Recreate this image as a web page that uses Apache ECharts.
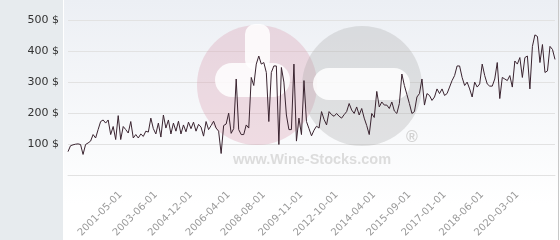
<!DOCTYPE html>
<html><head><meta charset="utf-8">
<script src="https://cdn.jsdelivr.net/npm/echarts@6/dist/echarts.min.js"></script>
<style>html,body{margin:0;padding:0;background:#fff}#c{width:560px;height:240px}</style>
</head><body><div id="c"></div>
<script>
const values = [
76,95,98,100,101,99,67,99,104,110,
131,120,147,173,178,168,178,131,157,115,
192,115,157,147,136,173,120,131,120,133,
125,142,139,184,150,133,168,123,194,152,
178,133,168,142,174,133,162,140,171,150,
171,142,164,155,126,173,147,160,174,152,
142,70,160,165,200,135,150,310,147,131,
131,162,152,315,289,358,384,358,363,331,
173,331,352,352,99,347,300,194,147,147,
358,110,184,131,305,173,150,127,145,158,
152,205,180,162,205,195,190,199,190,184,
195,205,231,210,199,220,194,215,184,160,
131,199,186,270,220,236,226,226,215,236,
207,199,231,326,289,260,231,199,205,252,
263,310,226,263,257,241,252,278,263,278,
257,263,284,305,321,352,352,315,289,300,
278,252,300,284,294,358,321,294,287,287,
310,363,247,315,310,305,321,284,368,358,
379,315,379,384,278,415,452,447,363,421,
331,336,415,405,373
];
const tickLabels = ['2001-05-01','2003-06-01','2004-12-01','2006-04-01','2008-08-01','2009-11-01','2012-10-01','2014-04-01','2015-09-01','2017-01-01','2018-06-01','2020-03-01'];
const tickIndex = [21,35,49,64,78,93,107,122,136,150,165,179];
const categories = values.map((v, i) => { const k = tickIndex.indexOf(i); return k >= 0 ? tickLabels[k] : '#' + i; });

const chart = echarts.init(document.getElementById('c'));
chart.setOption({
  animation: false,
  grid: { left: 68, right: 5, top: 20, bottom: 62 },
  graphic: [
    { type: 'rect', z: -10, shape: { x: 0, y: 0, width: 63, height: 240 }, style: { fill: '#e7ebee' } },
    { type: 'rect', z: -10, shape: { x: 64, y: 0, width: 496, height: 240 },
      style: { fill: new echarts.graphic.LinearGradient(0, 0, 0, 1, [{ offset: 0, color: '#eceff4' }, { offset: 0.85, color: '#ffffff' }]) } },
    { type: 'line', z: -9, shape: { x1: 558.5, y1: 0, x2: 558.5, y2: 240 }, style: { stroke: '#c8c8c8', lineWidth: 1 } },
    { type: 'circle', z: 1, shape: { cx: 257, cy: 85, r: 60 }, style: { fill: 'rgba(214,150,168,0.3)' } },
    { type: 'rect', z: 1, shape: { x: 215, y: 63, width: 75, height: 34, r: 17 }, style: { fill: 'rgba(255,255,255,0.85)' } },
    { type: 'rect', z: 1, shape: { x: 245, y: 24, width: 25, height: 46, r: 10 }, style: { fill: 'rgba(255,255,255,0.85)' } },
    { type: 'circle', z: 1, shape: { cx: 362, cy: 86, r: 60 }, style: { fill: 'rgba(160,160,160,0.28)' } },
    { type: 'rect', z: 1, shape: { x: 313, y: 68, width: 97, height: 32, r: 16 }, style: { fill: 'rgba(255,255,255,0.85)' } },
    { type: 'text', z: 1, x: 412, y: 138, style: { text: '®', fill: '#d2d2d2', font: 'bold 16px "Liberation Sans"', textAlign: 'center', textVerticalAlign: 'middle' } },
    { type: 'text', z: 1, x: 312, y: 160, style: { text: 'www.Wine-Stocks.com', fill: '#dcdcdc', font: 'bold 14.5px "Liberation Sans"', textAlign: 'center', textVerticalAlign: 'middle' } }
  ],
  xAxis: {
    type: 'category', data: categories, boundaryGap: false,
    axisLine: { lineStyle: { color: '#e2e2e2' } }, axisTick: { show: false }, splitLine: { show: false },
    axisLabel: { interval: (i) => tickIndex.includes(i), rotate: 45, color: '#9a9a9a', fontSize: 10, fontFamily: 'DejaVu Sans', margin: 18 }
  },
  yAxis: {
    type: 'value', min: 0, max: 500, interval: 100,
    axisLine: { show: false }, axisTick: { show: false },
    splitLine: { lineStyle: { color: '#e2e2e2' } },
    axisLabel: { formatter: '{value} $', color: '#333', fontSize: 11, fontFamily: 'DejaVu Sans', margin: 9, showMinLabel: false }
  },
  series: [{ type: 'line', data: values, symbol: 'none', lineStyle: { color: '#3a2430', width: 1 }, z: 5 }]
});
</script>
</body></html>
